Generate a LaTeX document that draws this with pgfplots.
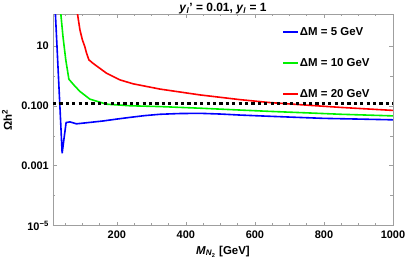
\documentclass[border=0pt]{standalone}
\usepackage{pgfplots}
\pgfplotsset{compat=1.18}
\usepackage{fontspec}
\setmainfont{Liberation Sans}
\definecolor{cblue}{RGB}{0,0,255}
\definecolor{cgreen}{RGB}{0,240,0}
\definecolor{cred}{RGB}{255,0,0}
\begin{document}
\begin{tikzpicture}
\useasboundingbox (-53bp,-38.3bp) rectangle (354bp,225.7bp);
\begin{axis}[
  at={(0,0)}, anchor=south west,
  scale only axis, width=340bp, height=211.7bp,
  xmin=15, xmax=1000, ymode=log, ymin=1e-5, ymax=115,
  axis line style={draw=gray!75, line width=0.6bp},
  tick align=inside,
  major tick length=4bp, minor tick length=2.5bp,
  tick style={draw=gray!75, line width=0.5bp},
  xtick={200,400,600,800,1000},
  minor xtick={50,100,150,250,300,350,450,500,550,650,700,750,850,900,950},
  ytick={1e-5,1e-3,0.1,10},
  yticklabels={10\textsuperscript{−5},0.001,0.100,10},
  minor ytick={1e-4,1e-2,1},
  /pgf/number format/assume math mode=true,
  /pgf/number format/1000 sep={},
  xticklabel style={font=\fontsize{11}{13}\selectfont\bfseries, inner sep=0pt, yshift=-5bp},
  yticklabel style={font=\fontsize{11}{13}\selectfont\bfseries, inner sep=0pt, xshift=-4bp},
  scaled x ticks=false,
  every axis title shift=0pt,
  title={\textbf{\textit{y}\textsubscript{\textit{l}}' = 0.01, \textit{y}\textsubscript{\textit{l}} = 1}},
  title style={at={(rel axis cs:0.5,1)}, anchor=base, yshift=2bp, font=\fontsize{12}{14}\selectfont, inner sep=0pt},
  xlabel={\textbf{\textit{M}\textsubscript{\textit{N}\textsubscript{2}} [GeV]}},
  xlabel style={at={(rel axis cs:0.5,0)}, anchor=base, yshift=-28.5bp, font=\fontsize{11.5}{13}\selectfont, inner sep=0pt},
  ylabel={\textbf{Ωh\textsuperscript{2}}},
  ylabel style={at={(rel axis cs:0,0.5)}, anchor=center, yshift=46bp, font=\fontsize{11.5}{13}\selectfont, inner sep=0pt},
  legend style={at={(rel axis cs:0.674,0.944)}, anchor=north west, draw=none, fill=none, inner sep=0pt, row sep=19.5bp, font=\fontsize{11.5}{13}\selectfont\bfseries, nodes={inner sep=1bp}},
  legend cell align=left,
  legend image code/.code={\draw[#1] (0bp,0bp) -- (15bp,0bp);},
  clip=true,
]
\addplot[cblue, line width=1.6bp] coordinates {
(20.5,400) (22,115) (27,7.6) (32,0.49) (37,0.032) (41.5,0.0026) (47,0.0082) (53,0.0275)
(64,0.029) (83,0.025) (117,0.0275) (159,0.031) (200,0.036) (238,0.041) (281,0.047)
(325,0.052) (380,0.055) (440,0.056) (500,0.053) (557,0.049) (614,0.046) (700,0.042)
(800,0.038) (900,0.036) (1000,0.034)};
\addlegendentry{ΔM = 5 GeV}
\addplot[cgreen, line width=1.6bp] coordinates {
(36.5,400) (37.7,115) (44,20) (52,3.4) (61,0.77) (75,0.5) (93,0.30) (122,0.166)
(170,0.113) (238,0.100) (325,0.094) (441,0.083) (557,0.072) (643,0.065) (750,0.058)
(850,0.052) (1000,0.046)};
\addlegendentry{ΔM = 10 GeV}
\addplot[cred, line width=1.6bp] coordinates {
(84,400) (86,115) (93,34) (100,16) (107,9.5) (112,5.8) (119,3.4) (131,2.6) (170,1.22)
(209,0.73) (247,0.54) (325,0.36) (441,0.23) (557,0.16) (643,0.128) (750,0.105)
(850,0.088) (1000,0.07)};
\addlegendentry{ΔM = 20 GeV}
\addplot[black, line width=3bp, dash pattern=on 3.2bp off 3.2bp, forget plot] coordinates {(15,0.12) (1000,0.12)};
\end{axis}
\end{tikzpicture}
\end{document}
